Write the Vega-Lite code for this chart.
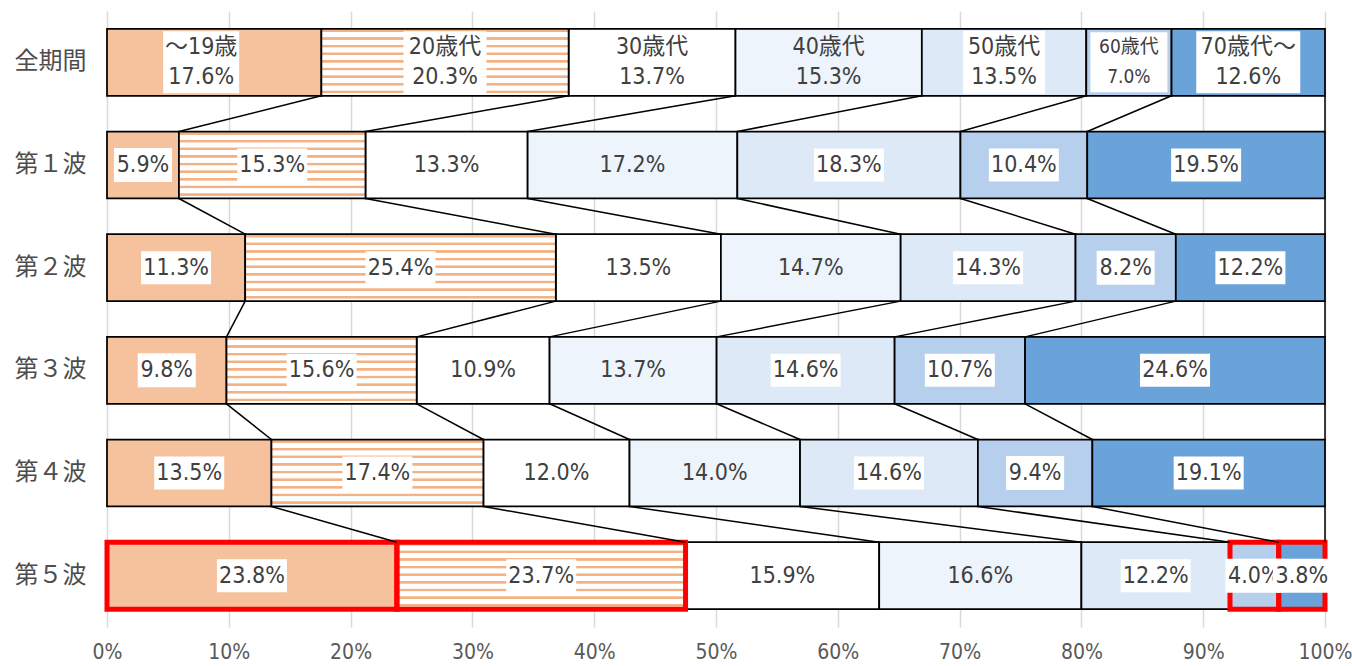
{
  "$schema": "https://vega.github.io/schema/vega-lite/v6.json",
  "width": 1218,
  "height": 616,
  "autosize": {"type": "none"},
  "padding": {"left": 107, "top": 11, "right": 27, "bottom": 39},
  "background": "#ffffff",
  "config": {"view": {"stroke": null}},
  "data": {"values": [
    {"wave": "全期間", "age": "～19歳", "k": 1, "v": 17.6},
    {"wave": "全期間", "age": "20歳代", "k": 2, "v": 20.3},
    {"wave": "全期間", "age": "30歳代", "k": 3, "v": 13.7},
    {"wave": "全期間", "age": "40歳代", "k": 4, "v": 15.3},
    {"wave": "全期間", "age": "50歳代", "k": 5, "v": 13.5},
    {"wave": "全期間", "age": "60歳代", "k": 6, "v": 7.0},
    {"wave": "全期間", "age": "70歳代～", "k": 7, "v": 12.6},
    {"wave": "第１波", "age": "～19歳", "k": 1, "v": 5.9},
    {"wave": "第１波", "age": "20歳代", "k": 2, "v": 15.3},
    {"wave": "第１波", "age": "30歳代", "k": 3, "v": 13.3},
    {"wave": "第１波", "age": "40歳代", "k": 4, "v": 17.2},
    {"wave": "第１波", "age": "50歳代", "k": 5, "v": 18.3},
    {"wave": "第１波", "age": "60歳代", "k": 6, "v": 10.4},
    {"wave": "第１波", "age": "70歳代～", "k": 7, "v": 19.5},
    {"wave": "第２波", "age": "～19歳", "k": 1, "v": 11.3},
    {"wave": "第２波", "age": "20歳代", "k": 2, "v": 25.4},
    {"wave": "第２波", "age": "30歳代", "k": 3, "v": 13.5},
    {"wave": "第２波", "age": "40歳代", "k": 4, "v": 14.7},
    {"wave": "第２波", "age": "50歳代", "k": 5, "v": 14.3},
    {"wave": "第２波", "age": "60歳代", "k": 6, "v": 8.2},
    {"wave": "第２波", "age": "70歳代～", "k": 7, "v": 12.2},
    {"wave": "第３波", "age": "～19歳", "k": 1, "v": 9.8},
    {"wave": "第３波", "age": "20歳代", "k": 2, "v": 15.6},
    {"wave": "第３波", "age": "30歳代", "k": 3, "v": 10.9},
    {"wave": "第３波", "age": "40歳代", "k": 4, "v": 13.7},
    {"wave": "第３波", "age": "50歳代", "k": 5, "v": 14.6},
    {"wave": "第３波", "age": "60歳代", "k": 6, "v": 10.7},
    {"wave": "第３波", "age": "70歳代～", "k": 7, "v": 24.6},
    {"wave": "第４波", "age": "～19歳", "k": 1, "v": 13.5},
    {"wave": "第４波", "age": "20歳代", "k": 2, "v": 17.4},
    {"wave": "第４波", "age": "30歳代", "k": 3, "v": 12.0},
    {"wave": "第４波", "age": "40歳代", "k": 4, "v": 14.0},
    {"wave": "第４波", "age": "50歳代", "k": 5, "v": 14.6},
    {"wave": "第４波", "age": "60歳代", "k": 6, "v": 9.4},
    {"wave": "第４波", "age": "70歳代～", "k": 7, "v": 19.1},
    {"wave": "第５波", "age": "～19歳", "k": 1, "v": 23.8},
    {"wave": "第５波", "age": "20歳代", "k": 2, "v": 23.7},
    {"wave": "第５波", "age": "30歳代", "k": 3, "v": 15.9},
    {"wave": "第５波", "age": "40歳代", "k": 4, "v": 16.6},
    {"wave": "第５波", "age": "50歳代", "k": 5, "v": 12.2},
    {"wave": "第５波", "age": "60歳代", "k": 6, "v": 4.0},
    {"wave": "第５波", "age": "70歳代～", "k": 7, "v": 3.8}
  ]},
  "transform": [
    {"stack": "v", "groupby": ["wave"], "sort": [{"field": "k", "order": "ascending"}], "as": ["x0", "x1"], "offset": "normalize"},
    {"calculate": "(datum.x0 + datum.x1) / 2", "as": "xm"},
    {"calculate": "format(datum.v, '.1f') + '%'", "as": "pct"},
    {"calculate": "datum.wave == '全期間' ? datum.age + '\\n' + datum.pct : datum.pct", "as": "label"},
    {"calculate": "datum.wave == '全期間' ? datum.age : (datum.v < 10 ? 'S' : 'M')", "as": "bx"},
    {"calculate": "datum.wave == '第５波' && datum.k == 7", "as": "last"}
  ],
  "layer": [
    {
      "transform": [{"filter": "datum.age != '20歳代'"}],
      "mark": {"type": "bar", "stroke": "#000000", "strokeWidth": 1.75},
      "encoding": {
        "y": {
          "field": "wave", "type": "nominal", "title": null,
          "scale": {"domain": ["全期間", "第１波", "第２波", "第３波", "第４波", "第５波"], "paddingInner": 0.348, "paddingOuter": 0.174},
          "axis": {"domain": false, "ticks": false, "labelPadding": 21, "labelFontSize": 24, "labelFont": "Noto Sans CJK JP", "labelColor": "#4d4d4d", "labelFontWeight": "normal"}
        },
        "x": {
          "field": "x0", "type": "quantitative", "title": null,
          "scale": {"domain": [0, 1], "nice": false},
          "axis": {"values": [0, 0.1, 0.2, 0.3, 0.4, 0.5, 0.6, 0.7, 0.8, 0.9, 1], "format": ".0%", "domain": false, "ticks": false, "grid": true, "gridColor": "#d9d9d9", "gridWidth": 1.5, "labelPadding": 14, "labelFontSize": 21, "labelFont": "DejaVu Sans Condensed, Noto Sans CJK JP", "labelColor": "#595959", "labelFlush": false}
        },
        "x2": {"field": "x1"},
        "color": {
          "field": "age", "type": "nominal", "legend": null,
          "scale": {
            "domain": ["～19歳", "30歳代", "40歳代", "50歳代", "60歳代", "70歳代～"],
            "range": ["#f6c29e", "#ffffff", "#eef4fb", "#dde9f7", "#b6cfec", "#6aa3d9"]
          }
        }
      }
    },
    {
      "transform": [{"filter": "datum.age == '20歳代'"}],
      "mark": {
        "type": "bar", "stroke": "#000000", "strokeWidth": 1.75,
        "fill": {
          "gradient": "linear", "x1": 0, "y1": 0, "x2": 0, "y2": 1,
          "stops": [
            {"offset": 0, "color": "#ffffff"},
            {"offset": 0.006, "color": "#ffffff"}, {"offset": 0.016, "color": "#f4b183"}, {"offset": 0.044, "color": "#f4b183"}, {"offset": 0.054, "color": "#ffffff"},
            {"offset": 0.120, "color": "#ffffff"}, {"offset": 0.130, "color": "#f4b183"}, {"offset": 0.158, "color": "#f4b183"}, {"offset": 0.168, "color": "#ffffff"},
            {"offset": 0.234, "color": "#ffffff"}, {"offset": 0.244, "color": "#f4b183"}, {"offset": 0.272, "color": "#f4b183"}, {"offset": 0.282, "color": "#ffffff"},
            {"offset": 0.348, "color": "#ffffff"}, {"offset": 0.358, "color": "#f4b183"}, {"offset": 0.386, "color": "#f4b183"}, {"offset": 0.396, "color": "#ffffff"},
            {"offset": 0.462, "color": "#ffffff"}, {"offset": 0.472, "color": "#f4b183"}, {"offset": 0.500, "color": "#f4b183"}, {"offset": 0.510, "color": "#ffffff"},
            {"offset": 0.576, "color": "#ffffff"}, {"offset": 0.586, "color": "#f4b183"}, {"offset": 0.614, "color": "#f4b183"}, {"offset": 0.624, "color": "#ffffff"},
            {"offset": 0.690, "color": "#ffffff"}, {"offset": 0.700, "color": "#f4b183"}, {"offset": 0.728, "color": "#f4b183"}, {"offset": 0.738, "color": "#ffffff"},
            {"offset": 0.804, "color": "#ffffff"}, {"offset": 0.814, "color": "#f4b183"}, {"offset": 0.842, "color": "#f4b183"}, {"offset": 0.852, "color": "#ffffff"},
            {"offset": 0.918, "color": "#ffffff"}, {"offset": 0.928, "color": "#f4b183"}, {"offset": 0.956, "color": "#f4b183"}, {"offset": 0.966, "color": "#ffffff"},
            {"offset": 1, "color": "#ffffff"}
          ]
        }
      },
      "encoding": {
        "y": {"field": "wave", "type": "nominal"},
        "x": {"field": "x0", "type": "quantitative"},
        "x2": {"field": "x1"}
      }
    },
    {
      "transform": [{"filter": "datum.wave == '第５波' && (datum.k <= 2 || datum.k >= 6)"}],
      "mark": {"type": "bar", "fill": null, "fillOpacity": 0, "stroke": "#ff0000", "strokeWidth": 5},
      "encoding": {
        "y": {"field": "wave", "type": "nominal"},
        "x": {"field": "x0", "type": "quantitative"},
        "x2": {"field": "x1"}
      }
    },
    {
      "transform": [
        {"window": [{"op": "lead", "field": "x1", "as": "nx"}, {"op": "lead", "field": "wave", "as": "nw"}], "groupby": ["age"], "sort": [{"field": "wave", "order": "ascending"}]},
        {"filter": "datum.nw != null"}
      ],
      "mark": {"type": "rule", "color": "#000000", "strokeWidth": 1.5},
      "encoding": {
        "y": {"field": "wave", "type": "nominal", "bandPosition": 1},
        "y2": {"field": "nw", "bandPosition": 0},
        "x": {"field": "x1", "type": "quantitative"},
        "x2": {"field": "nx"}
      }
    },
    {
      "transform": [{"filter": "datum.age != '30歳代' && datum.age != '40歳代' && !datum.last"}],
      "mark": {"type": "point", "filled": true, "fill": "#ffffff", "fillOpacity": 1, "opacity": 1, "strokeWidth": 0, "size": 10000},
      "encoding": {
        "y": {"field": "wave", "type": "nominal"},
        "x": {"field": "xm", "type": "quantitative"},
        "shape": {
          "field": "bx", "type": "nominal", "legend": null,
          "scale": {
            "domain": ["S", "M", "～19歳", "20歳代", "50歳代", "60歳代", "70歳代～"],
            "range": [
              "M-0.58,-0.34H0.58V0.34H-0.58Z",
              "M-0.70,-0.33H0.70V0.33H-0.70Z",
              "M-1.02,-0.62H0.50V0.62H-1.02Z",
              "M-0.83,-0.62H0.83V0.62H-0.83Z",
              "M-0.82,-0.63H0.82V0.63H-0.82Z",
              "M-0.77,-0.60H0.77V0.60H-0.77Z",
              "M-1.04,-0.62H1.04V0.62H-1.04Z"
            ]
          }
        }
      }
    },
    {
      "transform": [{"filter": "datum.wave != '全期間' && !datum.last"}],
      "mark": {"type": "text", "baseline": "middle", "align": "center", "font": "DejaVu Sans Condensed, Noto Sans CJK JP", "fontSize": 23, "fill": "#404040"},
      "encoding": {
        "y": {"field": "wave", "type": "nominal"},
        "x": {"field": "xm", "type": "quantitative"},
        "text": {"field": "label"}
      }
    },
    {
      "transform": [{"filter": "datum.wave == '全期間' && datum.k != 1"}],
      "mark": {"type": "text", "lineBreak": "\n", "lineHeight": 30, "dy": -15, "baseline": "middle", "align": "center", "font": "DejaVu Sans Condensed, Noto Sans CJK JP", "fill": "#404040"},
      "encoding": {
        "y": {"field": "wave", "type": "nominal"},
        "x": {"field": "xm", "type": "quantitative"},
        "text": {"field": "label"},
        "size": {"condition": {"test": "datum.age == '60歳代'", "value": 19}, "value": 23}
      }
    },
    {
      "transform": [{"filter": "datum.wave == '全期間' && datum.k == 1"}],
      "mark": {"type": "text", "lineBreak": "\n", "lineHeight": 30, "dy": -15, "dx": -13, "baseline": "middle", "align": "center", "font": "DejaVu Sans Condensed, Noto Sans CJK JP", "fontSize": 23, "fill": "#404040"},
      "encoding": {
        "y": {"field": "wave", "type": "nominal"},
        "x": {"field": "xm", "type": "quantitative"},
        "text": {"field": "label"}
      }
    },
    {
      "transform": [{"filter": "datum.last"}],
      "mark": {"type": "point", "filled": true, "fill": "#ffffff", "fillOpacity": 1, "opacity": 1, "strokeWidth": 0, "size": 10000, "shape": "M-0.58,-0.34H0.58V0.34H-0.58Z"},
      "encoding": {
        "y": {"field": "wave", "type": "nominal"},
        "x": {"field": "xm", "type": "quantitative"}
      }
    },
    {
      "transform": [{"filter": "datum.last"}],
      "mark": {"type": "text", "baseline": "middle", "align": "center", "font": "DejaVu Sans Condensed, Noto Sans CJK JP", "fontSize": 23, "fill": "#404040"},
      "encoding": {
        "y": {"field": "wave", "type": "nominal"},
        "x": {"field": "xm", "type": "quantitative"},
        "text": {"field": "label"}
      }
    }
  ]
}
